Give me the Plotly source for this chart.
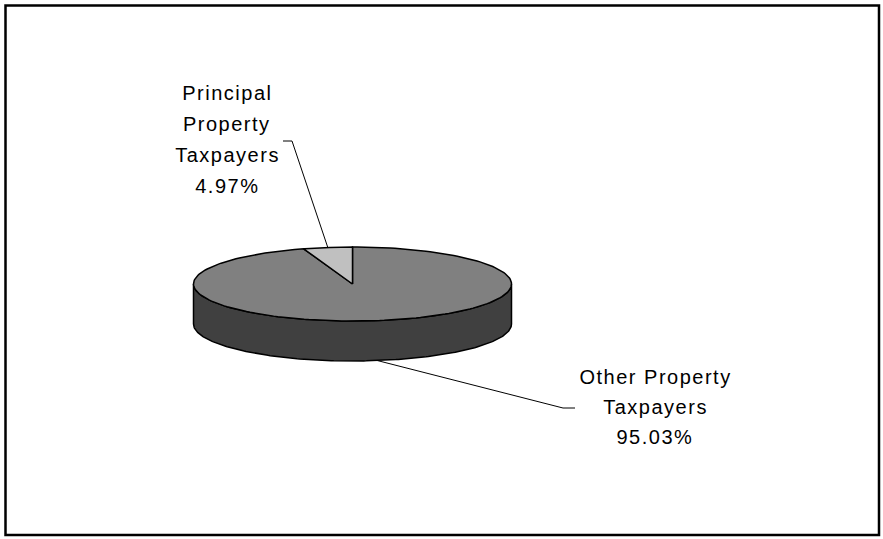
import numpy as np
import plotly.graph_objects as go

# ---- data ----
categories = ["Other Property Taxpayers", "Principal Property Taxpayers"]
label_lines = [["Other Property", "Taxpayers"], ["Principal", "Property", "Taxpayers"]]
shares = [95.03, 4.97]
top_colors = ["#808080", "#C0C0C0"]
side_color = "#404040"

# ---- geometry / style (pixel-based data space) ----
W, H = 883, 539
CX, CY, RX, RY, DEPTH = 352.5, 284, 159, 37, 40
FONT = dict(family="Liberation Sans, Arial, sans-serif", size=20, color="black")


def pt(theta_deg, dy=0.0):
    """theta measured clockwise from 12 o'clock"""
    t = np.radians(theta_deg)
    return CX + RX * np.sin(t), CY - RY * np.cos(t) + dy


def arc(a0, a1, dy=0.0, n=200):
    th = np.linspace(a0, a1, n)
    xs, ys = pt(th, dy)
    return list(xs), list(ys)


total = sum(shares)
bounds = []
acc = 0.0
for s in shares:
    a0 = acc / total * 360
    acc += s
    a1 = acc / total * 360
    bounds.append((a0, a1))

fig = go.Figure()

# side walls (front half: 90..270 deg)
for (a0, a1), name in zip(bounds, categories):
    s0, s1 = max(a0, 90), min(a1, 270)
    if s1 <= s0:
        continue
    xt, yt = arc(s0, s1)
    xb, yb = arc(s1, s0, DEPTH)
    fig.add_trace(go.Scatter(
        x=xt + xb + [xt[0]], y=yt + yb + [yt[0]],
        mode="lines", fill="toself", fillcolor=side_color,
        line=dict(color="black", width=1.5), hoverinfo="text", text=name,
        showlegend=False))

# top faces
for (a0, a1), name, col in zip(bounds, categories, top_colors):
    xa, ya = arc(a0, a1)
    fig.add_trace(go.Scatter(
        x=[CX] + xa + [CX], y=[CY] + ya + [CY],
        mode="lines", fill="toself", fillcolor=col,
        line=dict(color="black", width=1.5), hoverinfo="text", text=name,
        showlegend=False))

shapes = [dict(type="rect", xref="x", yref="y", x0=5.5, y0=5.5, x1=879, y1=535,
               line=dict(color="black", width=2.5), layer="above")]
annotations = []

# label placement (layout)
label_pos = [
    dict(cx=655, ys=[377, 407, 437], elbow=(563, 408), end=(575, 408), dy=DEPTH),
    dict(cx=227, ys=[93, 124, 155, 186], elbow=(292, 141), end=(283, 141), dy=0),
]

for (a0, a1), lines, s, lp in zip(bounds, label_lines, shares, label_pos):
    mid = (a0 + a1) / 2
    sx, sy = pt(mid, lp["dy"])
    ex, ey = lp["elbow"]
    fx, fy = lp["end"]
    shapes.append(dict(type="path", xref="x", yref="y",
                       path=f"M {sx:.1f} {sy:.1f} L {ex} {ey} L {fx} {fy}",
                       line=dict(color="black", width=1)))
    texts = lines + [f"{s / total * 100:.2f}%"]
    for t, y in zip(texts, lp["ys"]):
        annotations.append(dict(x=lp["cx"], y=y, xref="x", yref="y", text=t,
                                showarrow=False, font=FONT,
                                xanchor="center", yanchor="middle"))

fig.update_layout(
    width=W, height=H,
    margin=dict(l=0, r=0, t=0, b=0),
    paper_bgcolor="white", plot_bgcolor="white",
    xaxis=dict(range=[0, W], visible=False, fixedrange=True),
    yaxis=dict(range=[H, 0], visible=False, fixedrange=True),
    shapes=shapes, annotations=annotations, showlegend=False,
)

fig.write_html(
    "out.html",
    config={"displayModeBar": False},
    post_script=(
        "document.body.style.margin='0';document.body.style.overflow='hidden';"
        "document.querySelectorAll('.annotation-text').forEach(function(e){"
        "e.style.letterSpacing='1.5px';});"
    ),
)
